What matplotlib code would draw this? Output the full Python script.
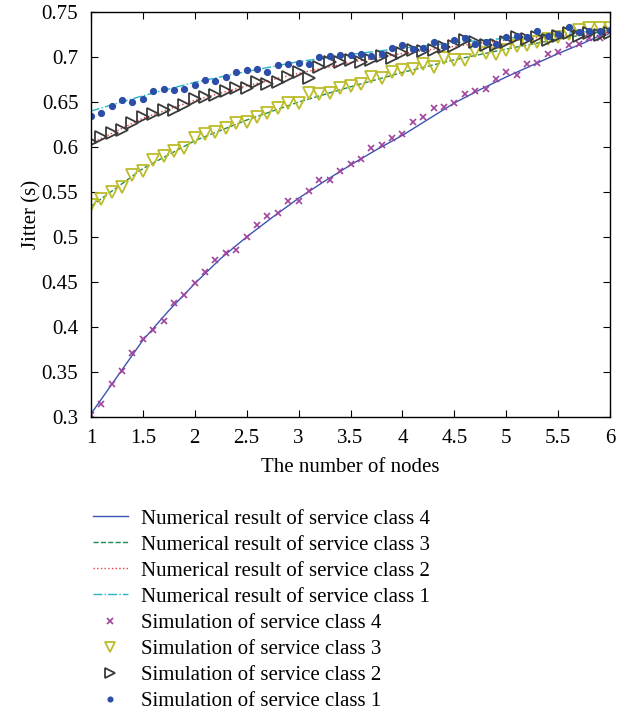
import numpy as np
import matplotlib.pyplot as plt
from matplotlib.ticker import FormatStrFormatter

plt.rcParams['font.family'] = ['Liberation Serif', 'DejaVu Serif']
plt.rcParams['mathtext.fontset'] = 'stix'

# number of nodes where the simulation was sampled
nodes_sim = np.round(np.arange(1.0, 6.01, 0.1), 1)

# simulated jitter (s)
sim_class4 = [0.302, 0.314, 0.336, 0.351, 0.371, 0.386, 0.396, 0.406, 0.426, 0.435,
              0.449, 0.461, 0.474, 0.482, 0.486, 0.500, 0.513, 0.523, 0.527, 0.540,
              0.540, 0.551, 0.563, 0.563, 0.573, 0.581, 0.587, 0.599, 0.602, 0.610,
              0.614, 0.628, 0.633, 0.643, 0.645, 0.649, 0.659, 0.662, 0.664, 0.676,
              0.683, 0.680, 0.692, 0.694, 0.703, 0.706, 0.714, 0.715, 0.721, 0.721,
              0.728]
sim_class3 = [0.536, 0.542, 0.550, 0.556, 0.569, 0.573, 0.586, 0.590, 0.596, 0.599,
              0.610, 0.614, 0.617, 0.621, 0.627, 0.628, 0.633, 0.638, 0.643, 0.649,
              0.649, 0.660, 0.659, 0.660, 0.666, 0.668, 0.670, 0.678, 0.677, 0.683,
              0.686, 0.687, 0.692, 0.689, 0.699, 0.697, 0.697, 0.707, 0.705, 0.704,
              0.708, 0.712, 0.713, 0.717, 0.720, 0.722, 0.726, 0.730, 0.732, 0.732,
              0.732]
sim_class2 = [0.606, 0.611, 0.616, 0.619, 0.627, 0.633, 0.637, 0.641, 0.641, 0.647,
              0.653, 0.656, 0.658, 0.662, 0.666, 0.666, 0.672, 0.670, 0.672, 0.678,
              0.684, 0.677, 0.689, 0.695, 0.695, 0.697, 0.695, 0.697, 0.701, 0.699,
              0.705, 0.708, 0.707, 0.708, 0.711, 0.712, 0.719, 0.717, 0.713, 0.713,
              0.717, 0.722, 0.720, 0.722, 0.719, 0.723, 0.727, 0.723, 0.727, 0.725,
              0.727]
sim_class1 = [0.635, 0.638, 0.646, 0.652, 0.650, 0.653, 0.662, 0.665, 0.663, 0.665,
              0.669, 0.675, 0.673, 0.678, 0.684, 0.686, 0.687, 0.684, 0.691, 0.692,
              0.693, 0.692, 0.700, 0.701, 0.702, 0.702, 0.704, 0.701, 0.704, 0.710,
              0.713, 0.709, 0.710, 0.717, 0.712, 0.719, 0.721, 0.715, 0.717, 0.715,
              0.722, 0.724, 0.722, 0.729, 0.723, 0.726, 0.733, 0.728, 0.729, 0.729,
              0.730]

# numerical (analytical) results
nodes_num4 = np.arange(1.0, 6.01, 0.25)
num_class4 = [0.303, 0.344, 0.385, 0.418, 0.448, 0.476, 0.500, 0.522, 0.543, 0.562,
              0.580, 0.597, 0.613, 0.631, 0.649, 0.664, 0.678, 0.691, 0.704, 0.716,
              0.729]
nodes_num = np.arange(1.0, 6.01, 0.5)
num_class3 = [0.534, 0.576, 0.607, 0.630, 0.650, 0.667, 0.683, 0.697, 0.709, 0.720, 0.730]
num_class2 = [0.604, 0.632, 0.652, 0.668, 0.682, 0.694, 0.704, 0.712, 0.719, 0.724, 0.728]
num_class1 = [0.640, 0.657, 0.672, 0.684, 0.695, 0.703, 0.710, 0.716, 0.721, 0.726, 0.730]

fs = 15

fig = plt.figure(figsize=(6.31, 7.16), dpi=100)
ax = fig.add_axes([0.144, 0.418, 0.823, 0.565])

ax.plot(nodes_num4, num_class4, '-', color='#3a55b0', lw=1.0,
        label='Numerical result of service class 4')
ax.plot(nodes_num, num_class3, '--', color='#1f8a50', lw=1.0,
        label='Numerical result of service class 3')
ax.plot(nodes_num, num_class2, ':', color='#f03c3c', lw=1.0,
        label='Numerical result of service class 2')
ax.plot(nodes_num, num_class1, '-.', color='#25b5c5', lw=1.0,
        label='Numerical result of service class 1')

ax.plot(nodes_sim, sim_class4, 'x', color='#a0449e', ms=5, mew=1.2, ls='none',
        label='Simulation of service class 4')
ax.plot(nodes_sim, sim_class3, 'v', mfc='none', mec='#bcbc28', ms=8.5, mew=1.3, ls='none',
        label='Simulation of service class 3')
ax.plot(nodes_sim, sim_class2, '>', mfc='none', mec='#3a3a3a', ms=8.5, mew=1.3, ls='none',
        label='Simulation of service class 2')
ax.plot(nodes_sim, sim_class1, 'o', color='#2c4ea8', ms=4.2, ls='none',
        label='Simulation of service class 1')

ax.set_xlim(1, 6)
ax.set_ylim(0.3, 0.75)
ax.set_xticks(np.arange(1, 6.01, 0.5))
ax.set_yticks(np.arange(0.3, 0.751, 0.05))
ax.xaxis.set_major_formatter(FormatStrFormatter('%g'))
ax.yaxis.set_major_formatter(FormatStrFormatter('%g'))
ax.tick_params(direction='in', top=True, right=True, length=5, labelsize=fs)
ax.tick_params(axis='x', pad=9)
ax.tick_params(axis='y', pad=9)
for s in ax.spines.values():
    s.set_linewidth(1.0)

ax.set_xlabel('The number of nodes', fontsize=fs, labelpad=7)
ax.set_ylabel('Jitter (s)', fontsize=fs, labelpad=0)

fig.legend(loc='upper left', bbox_to_anchor=(0.147, 0.289), frameon=False,
           fontsize=fs, handlelength=1.7, handletextpad=0.6, labelspacing=0.31,
           markerscale=0.8, borderpad=0, borderaxespad=0)

fig.savefig('out.png', dpi=100)
